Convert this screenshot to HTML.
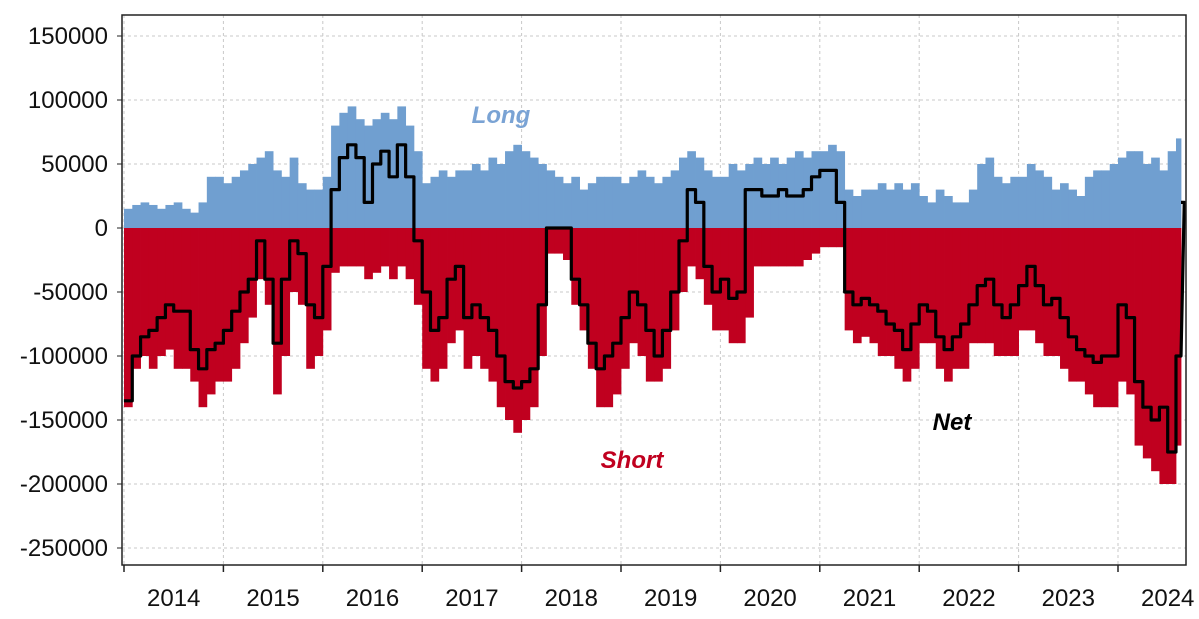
<!DOCTYPE html>
<html><head><meta charset="utf-8"><style>
html,body{margin:0;padding:0;background:#fff}
svg{display:block;font-family:"Liberation Sans",sans-serif}
</style></head><body>
<svg id="chart" width="1199" height="619"></svg>
<script>
const years=[2014,2015,2016,2017,2018,2019,2020,2021,2022,2023,2024];
const yTicks=[150000,100000,50000,0,-50000,-100000,-150000,-200000,-250000];
const longVals=[15,18,20,18,15,18,20,15,12,20,40,40,35,40,45,50,55,60,45,40,55,35,30,30,40,80,90,95,85,80,85,90,85,95,80,60,35,40,45,40,45,45,50,45,55,50,60,65,60,55,50,45,40,35,40,30,35,40,40,40,35,40,45,40,35,40,45,55,60,55,45,40,40,50,45,50,55,50,55,50,55,60,55,60,60,65,60,30,25,30,30,35,30,35,30,35,25,20,30,25,20,20,30,50,55,40,35,40,40,50,45,40,30,35,30,25,40,45,45,50,55,60,60,50,55,45,60,70,80];
const shortVals=[-140,-110,-100,-110,-100,-95,-110,-110,-120,-140,-130,-120,-120,-110,-90,-70,-40,-60,-130,-100,-50,-60,-110,-100,-80,-35,-30,-30,-30,-40,-35,-30,-40,-30,-40,-60,-110,-120,-110,-90,-80,-110,-100,-110,-120,-140,-150,-160,-150,-140,-100,-20,-20,-25,-60,-80,-110,-140,-140,-130,-110,-90,-100,-120,-120,-110,-80,-50,-30,-40,-60,-80,-80,-90,-90,-70,-30,-30,-30,-30,-30,-30,-25,-20,-15,-15,-15,-80,-90,-85,-90,-100,-100,-110,-120,-110,-90,-90,-110,-120,-110,-110,-90,-90,-90,-100,-100,-100,-80,-80,-90,-100,-100,-110,-120,-120,-130,-140,-140,-140,-120,-130,-170,-180,-190,-200,-200,-170,-60];
const netVals=[-135,-100,-85,-80,-70,-60,-65,-65,-95,-110,-95,-90,-80,-65,-50,-40,-10,-40,-90,-40,-10,-20,-60,-70,-30,30,55,65,55,20,50,60,40,65,40,-10,-50,-80,-70,-40,-30,-70,-60,-70,-80,-100,-120,-125,-120,-110,-60,0,0,0,-40,-60,-90,-110,-100,-90,-70,-50,-60,-80,-100,-80,-50,-10,30,20,-30,-50,-40,-55,-50,30,30,25,25,30,25,25,30,40,45,45,20,-50,-60,-55,-60,-65,-75,-80,-95,-75,-60,-65,-85,-95,-85,-75,-60,-45,-40,-60,-70,-60,-45,-30,-45,-60,-55,-70,-85,-95,-100,-105,-100,-100,-60,-70,-120,-140,-150,-140,-175,-100,20];

const NS="http://www.w3.org/2000/svg";
const svg=document.getElementById('chart');
const L=122,R=1186,T=15,B=565,XEND=1181;
const x0=124,yearW=99.4,monthW=yearW/12;
const xs=i=>x0+i*monthW;
const xe=i=>Math.min(XEND,xs(i)+monthW);
const ys=v=>228-v*0.00128;
function el(tag,attrs,parent){const e=document.createElementNS(NS,tag);for(const k in attrs)e.setAttribute(k,attrs[k]);(parent||svg).appendChild(e);return e;}

const grid=el('g',{});


yTicks.forEach(v=>{el('line',{x1:L,x2:R,y1:ys(v),y2:ys(v),stroke:'#c8c8c8','stroke-dasharray':'3,3','stroke-width':1},grid);});
years.forEach((y,k)=>{const x=x0+k*yearW;el('line',{x1:x,x2:x,y1:T,y2:B,stroke:'#c8c8c8','stroke-dasharray':'3,3','stroke-width':1},grid);});

const bars=el('g',{});


longVals.forEach((v,i)=>{
  const r=el('rect',{x:xs(i),y:ys(v*1000),width:Math.max(0,xe(i)-xs(i)+0.4),height:ys(0)-ys(v*1000),fill:'#709fd0'},bars);
  
  
});
shortVals.forEach((v,i)=>{
  const r=el('rect',{x:xs(i),y:ys(0),width:Math.max(0,xe(i)-xs(i)+0.4),height:ys(v*1000)-ys(0),fill:'#c0001f'},bars);
  
  
});

let d='';
netVals.forEach((v,i)=>{const y=ys(v*1000);d+=(i===0?'M':'L')+xs(i)+','+y+'L'+xe(i)+','+y;});
const net=el('path',{d:d,fill:'none',stroke:'#000','stroke-width':3.2,'stroke-linejoin':'round'});



const frame=el('rect',{x:L,y:T,width:R-L,height:B-T,fill:'none',stroke:'#222','stroke-width':1.5});



yTicks.forEach(v=>{
  const t=el('text',{x:108,y:ys(v)+8,'text-anchor':'end','font-size':24,fill:'#111'});
  t.textContent=String(v);
  
  
  el('line',{x1:L-5,x2:L,y1:ys(v),y2:ys(v),stroke:'#222'});
});
years.forEach((y,k)=>{
  const x=x0+k*yearW;
  el('line',{x1:x,x2:x,y1:B,y2:B+7,stroke:'#222','stroke-width':1.5});
  const t=el('text',{x:x+yearW/2,y:606,'text-anchor':'middle','font-size':24,fill:'#111'});
  t.textContent=String(y);
  
  
});

const lab=[['Long',501,123,'#7aa3d4','long-label'],['Short',632,468,'#c0001f','short-label'],['Net',952,430,'#000','net-label']];
lab.forEach(a=>{
  const t=el('text',{x:a[1],y:a[2],'text-anchor':'middle','font-size':24,'font-weight':'bold','font-style':'italic',fill:a[3]});
  t.textContent=a[0];
  
  
});
</script>
</body></html>
